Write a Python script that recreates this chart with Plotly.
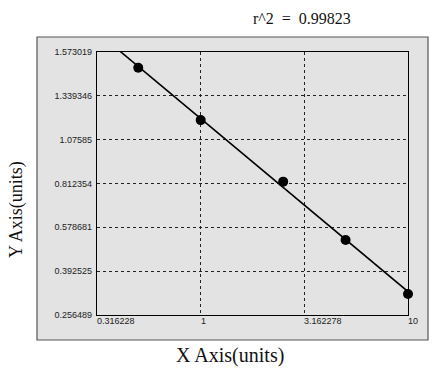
import numpy as np
import plotly.graph_objects as go

# data
x_values = [0.5, 1, 2.5, 5, 10]
y_values = [1.494, 1.232, 0.924, 0.632, 0.362]
x_tick_values = [0.316228, 1, 3.162278, 10]
x_tick_labels = ["0.316228", "1", "3.162278", "10"]
y_tick_labels = ["0.256489", "0.392525", "0.578681", "0.812354", "1.07585", "1.339346", "1.573019"]
r2_text = "r^2  =  0.99823"

y_min, y_max = 0.256489, 1.573019
y_tick_pos = list(np.linspace(y_min, y_max, len(y_tick_labels)))

# straight-line fit in log x
coef = np.polyfit(np.log10(x_values), y_values, 1)
fit_x = np.array([x_tick_values[0], x_tick_values[-1]])
fit_y = np.polyval(coef, np.log10(fit_x))

fig = go.Figure()
fig.add_trace(go.Scatter(x=fit_x, y=fit_y, mode="lines",
                         line=dict(color="black", width=1.6), hoverinfo="skip"))
fig.add_trace(go.Scatter(x=x_values, y=y_values, mode="markers",
                         marker=dict(color="black", size=10), cliponaxis=False))

W, H = 443, 371
L, R, T, B = 97, 35, 52, 56
pw, ph = W - L - R, H - T - B

def px_x(p):
    return (p - L) / pw

def px_y(p):
    return (H - B - p) / ph

fig.add_shape(type="rect", xref="paper", yref="paper",
              x0=px_x(37), x1=px_x(428), y0=px_y(340), y1=px_y(37),
              fillcolor="#e3e3e3", line=dict(color="#555555", width=1.2), layer="below")

annotations = []
for v, t in zip(x_tick_values, x_tick_labels):
    annotations.append(dict(x=np.log10(v), y=0, xref="x", yref="paper", text=t,
                            showarrow=False, xanchor="left", yanchor="top", yshift=1,
                            xshift=-2,
                            font=dict(family="Liberation Sans, Arial", size=9, color="#222")))
annotations.append(dict(x=px_x(302), y=px_y(18), xref="paper", yref="paper",
                        text=r2_text.replace("  ", "&nbsp;&nbsp;"),
                        showarrow=False, xanchor="center", yanchor="middle",
                        font=dict(family="Liberation Serif, Times New Roman", size=16, color="#111")))
annotations.append(dict(x=px_x(230), y=px_y(355), xref="paper", yref="paper", text="X Axis(units)",
                        showarrow=False, xanchor="center", yanchor="middle",
                        font=dict(family="Liberation Serif, Times New Roman", size=20, color="#111")))
annotations.append(dict(x=px_x(16), y=px_y(210), xref="paper", yref="paper", text="Y Axis(units)",
                        showarrow=False, xanchor="center", yanchor="middle", textangle=-90,
                        font=dict(family="Liberation Serif, Times New Roman", size=18, color="#111")))

fig.update_layout(
    width=W, height=H,
    margin=dict(l=L, r=R, t=T, b=B, pad=0),
    paper_bgcolor="white",
    plot_bgcolor="#ebebeb",
    showlegend=False,
    annotations=annotations,
    xaxis=dict(type="log", range=[np.log10(x_tick_values[0]), np.log10(x_tick_values[-1])],
               tickvals=x_tick_values, showticklabels=False, ticks="",
               showgrid=True, gridcolor="#222222", griddash="dot", gridwidth=1,
               showline=True, linecolor="black", linewidth=1.2, mirror=True, zeroline=False),
    yaxis=dict(range=[y_min, y_max], tickvals=y_tick_pos, ticktext=y_tick_labels,
               tickfont=dict(family="Liberation Sans, Arial", size=9, color="#222"),
               ticks="", ticklabelstandoff=2,
               showgrid=True, gridcolor="#222222", griddash="dot", gridwidth=1,
               showline=True, linecolor="black", linewidth=1.2, mirror=True, zeroline=False),
)

fig.write_html("out.html", config={"displayModeBar": False})
with open("out.html", "r", encoding="utf-8") as f:
    html = f.read()
html = html.replace("<head>", "<head><style>html,body{margin:0;padding:0;overflow:hidden;}</style>", 1)
with open("out.html", "w", encoding="utf-8") as f:
    f.write(html)
